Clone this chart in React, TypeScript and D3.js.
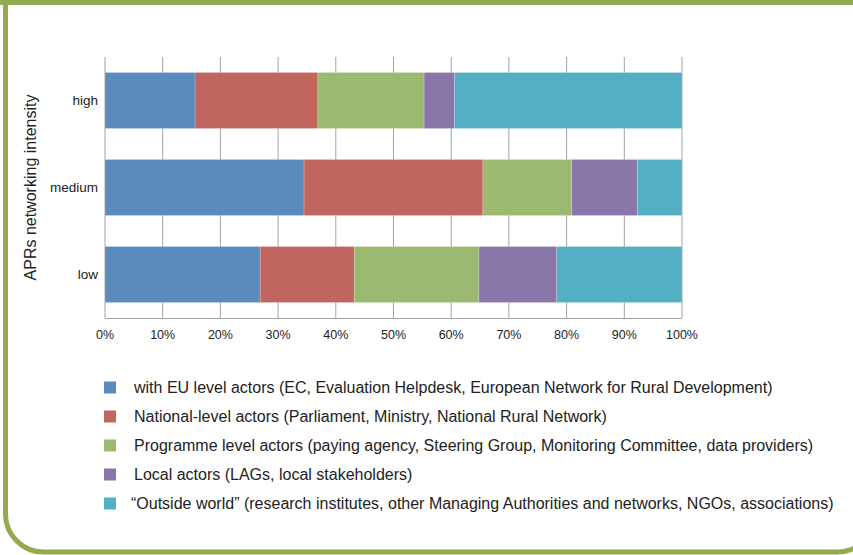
import React from "react";
import * as d3 from "d3";

const categories = ["high", "medium", "low"];
const seriesNames = [
  "with EU level actors (EC, Evaluation Helpdesk, European Network for Rural Development)",
  "National-level actors (Parliament, Ministry, National Rural Network)",
  "Programme level actors (paying agency, Steering Group, Monitoring Committee, data providers)",
  "Local actors (LAGs, local stakeholders)",
  "\u201COutside world\u201D (research institutes, other Managing Authorities and networks, NGOs, associations)",
];
const euValues = [15.6, 34.5, 26.9];
const nationalValues = [21.3, 31.0, 16.3];
const programmeValues = [18.4, 15.4, 21.6];
const localValues = [5.3, 11.4, 13.5];
const outsideValues = [39.4, 7.7, 21.7];
const seriesColors = ["#5B8BBD", "#C1665E", "#9CB971", "#8977AA", "#53B0C4"];
const tickValues = [0, 10, 20, 30, 40, 50, 60, 70, 80, 90, 100];

const W = 853;
const H = 555;
const FONT = "Liberation Sans, Arial, sans-serif";

export default function App() {
  const left = 105, right = 682, top = 57, bottom = 318;
  const x = d3.scaleLinear().domain([0, 100]).range([left, right]);
  const y = d3.scaleBand().domain(categories).range([top, bottom]).paddingInner(0.356).paddingOuter(0.178);

  const allSeries = [euValues, nationalValues, programmeValues, localValues, outsideValues];
  const rows = categories.map((c, i) => {
    const obj: any = { cat: c };
    allSeries.forEach((s, k) => (obj["s" + k] = s[i]));
    return obj;
  });
  const keys = allSeries.map((_, k) => "s" + k);
  const stacked = d3.stack().keys(keys)(rows);

  const legendY0 = 387.5;
  const legendStep = 29;

  return (
    <svg width={W} height={H} style={{ position: "absolute", left: 0, top: 0 }}>
      <rect x={0} y={0} width={W} height={H} fill="#fff" />
      {/* frame */}
      <rect x={5.5} y={-60} width={870} height={612} rx={38} ry={38} fill="none" stroke="#93AA50" strokeWidth={5} />
      <rect x={0} y={0} width={W} height={5} fill="#93AA50" />

      {/* gridlines */}
      {tickValues.map((t) => (
        <line key={t} x1={x(t)} x2={x(t)} y1={top} y2={bottom} stroke="#A3A3A3" strokeWidth={1} />
      ))}
      <line x1={left} x2={right} y1={bottom + 0.5} y2={bottom + 0.5} stroke="#A3A3A3" strokeWidth={1} />

      {/* bars */}
      {stacked.map((layer, k) => (
        <g key={k}>
          {layer.map((d: any, i: number) => (
            <rect
              key={i}
              x={x(d[0])}
              y={y(d.data.cat)!}
              width={x(d[1]) - x(d[0])}
              height={y.bandwidth()}
              fill={seriesColors[k]}
              stroke="#ffffff"
              strokeOpacity={0.35}
              strokeWidth={0.6}
            />
          ))}
        </g>
      ))}

      {/* tick labels */}
      {tickValues.map((t) => (
        <text key={t} x={x(t)} y={339} textAnchor="middle" fontFamily={FONT} fontSize={12.5} fill="#222">
          {t + "%"}
        </text>
      ))}

      {/* category labels */}
      {categories.map((c) => (
        <text key={c} x={98} y={y(c)! + y.bandwidth() / 2 + 4.5} textAnchor="end" fontFamily={FONT} fontSize={13.5} fill="#222">
          {c}
        </text>
      ))}

      {/* y title */}
      <text
        transform={`translate(36,${(top + bottom) / 2}) rotate(-90)`}
        textAnchor="middle"
        fontFamily={FONT}
        fontSize={16}
        fill="#222"
      >
        APRs networking intensity
      </text>

      {/* legend */}
      {seriesNames.map((n, k) => (
        <g key={k} transform={`translate(0,${legendY0 + k * legendStep})`}>
          <rect x={104} y={-6} width={12} height={12} fill={seriesColors[k]} />
          <text x={k === 4 ? 131 : 134} y={5.5} fontFamily={FONT} fontSize={16} fill="#222">
            {n}
          </text>
        </g>
      ))}
    </svg>
  );
}
